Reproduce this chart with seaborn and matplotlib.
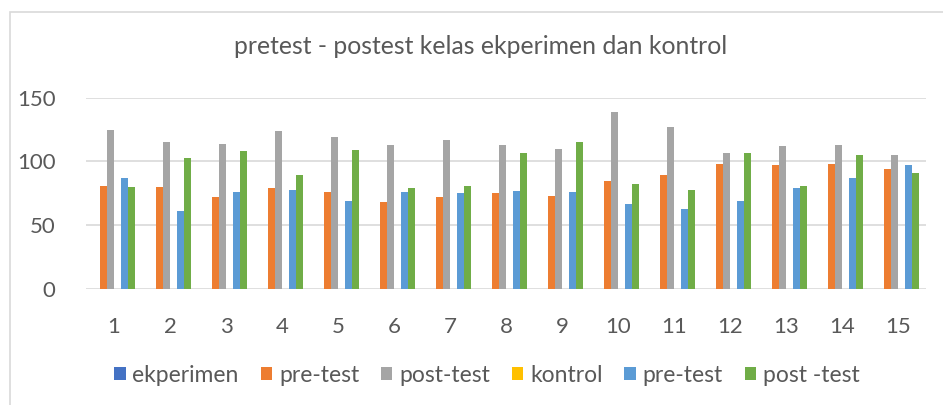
import numpy as np
import pandas as pd
import seaborn as sns
import matplotlib.pyplot as plt
from matplotlib.patches import Patch, Rectangle

# data
groups = [str(i) for i in range(1, 16)]
series_keys = ['ekperimen', 'pre_e', 'post_e', 'kontrol', 'pre_k', 'post_k']
series_labels = ['ekperimen', 'pre-test', 'post-test', 'kontrol', 'pre-test', 'post -test']
ekperimen = [np.nan] * 15
pre_e = [81, 80, 72, 79, 76, 68, 72, 75, 73, 85, 89, 98, 97, 98, 94]
post_e = [125, 115, 114, 124, 119, 113, 117, 113, 110, 139, 127, 107, 112, 113, 105]
kontrol = [np.nan] * 15
pre_k = [87, 61, 76, 78, 69, 76, 75, 77, 76, 67, 63, 69, 79, 87, 97]
post_k = [80, 103, 108, 89, 109, 79, 81, 107, 115, 82, 78, 107, 81, 105, 91]

colors = ['#4472C4', '#ED7D31', '#A5A5A5', '#FFC000', '#5B9BD5', '#70AD47']
text_col = '#595959'
grid_col = '#D9D9D9'

rows = []
for key, vals in zip(series_keys, [ekperimen, pre_e, post_e, kontrol, pre_k, post_k]):
    for g, v in zip(groups, vals):
        rows.append({'group': g, 'series': key, 'value': v})
df = pd.DataFrame(rows)

sns.set_style('white')
plt.rcParams['font.family'] = ['Lato', 'DejaVu Sans']

fig = plt.figure(figsize=(9.43, 4.05), dpi=100)
ax = fig.add_axes([86 / 943, 1 - 289 / 405, 840 / 943, 191.3 / 405])

sns.barplot(data=df, x='group', y='value', hue='series', order=groups,
            hue_order=series_keys, palette=colors, saturation=1,
            width=0.733, gap=0, linewidth=0, legend=False, ax=ax)

ax.set_ylim(0, 150)
ax.set_yticks([0, 50, 100, 150])
ax.set_xlim(-0.5, 14.5)
ax.grid(axis='y', color=grid_col, lw=1.2)
ax.set_axisbelow(True)
for s in ax.spines.values():
    s.set_visible(False)
ax.set_xlabel('')
ax.set_ylabel('')
ax.tick_params(axis='both', length=0, labelsize=16, colors=text_col)
ax.tick_params(axis='x', pad=20)
ax.tick_params(axis='y', pad=22)

fig.text(481 / 943, 1 - 47 / 405, 'pretest - postest kelas ekperimen dan kontrol',
         ha='center', va='center', fontsize=17.8, color=text_col)

handles = [Patch(facecolor=c, edgecolor='none') for c in colors]
fig.legend(handles, series_labels, loc='center', ncol=6,
           bbox_to_anchor=(487 / 943, 1 - 375 / 405), frameon=False,
           fontsize=16.5, labelcolor=text_col, handlelength=0.5,
           handleheight=0.5, handletextpad=0.3, columnspacing=0.95)

# chart border (only top and left edges visible in the crop)
fig.patches.append(Rectangle((9.5 / 943, -0.1), 1.2, 1 - 12 / 405 + 0.1,
                             transform=fig.transFigure, fill=False,
                             edgecolor=grid_col, lw=1.2))

fig.savefig('out.png', dpi=100)
